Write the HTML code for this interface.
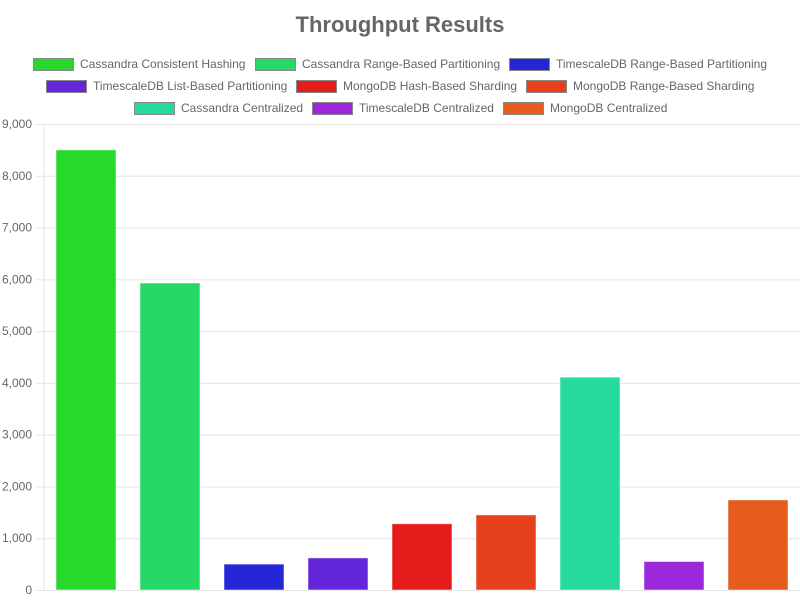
<!DOCTYPE html>
<html><head><meta charset="utf-8"><style>
body{margin:0;background:#fff;}
svg{display:block;font-family:"Liberation Sans",sans-serif;}
</style></head><body>
<svg id="chart" width="800" height="600">
<text x="400" y="32" text-anchor="middle" font-size="22" font-weight="bold" fill="#666">Throughput Results</text>
<g id="legend"></g>
<g id="grid"></g>
<g id="bars"></g>
</svg>
<script>
const categories = ["Cassandra Consistent Hashing","Cassandra Range-Based Partitioning","TimescaleDB Range-Based Partitioning","TimescaleDB List-Based Partitioning","MongoDB Hash-Based Sharding","MongoDB Range-Based Sharding","Cassandra Centralized","TimescaleDB Centralized","MongoDB Centralized"];
const values = [8500, 5930, 500, 620, 1280, 1450, 4110, 550, 1740];
const colors = ["#26d92b","#26d966","#2626d9","#6426d9","#e61c1c","#e6401c","#26d99c","#9c26d9","#e65c1c"];
const yTicks = [0,1000,2000,3000,4000,5000,6000,7000,8000,9000];
const NS="http://www.w3.org/2000/svg";
const plotLeft=44,plotRight=800,plotTop=124,plotBottom=590,yMax=9000;
const yScale=v=>plotBottom-(v/yMax)*(plotBottom-plotTop);
const band=(plotRight-plotLeft)/categories.length;
const xScale=i=>plotLeft+band*i+band/2;
function mk(tag,attrs,parent){const e=document.createElementNS(NS,tag);for(const k in attrs)e.setAttribute(k,attrs[k]);parent.appendChild(e);return e;}
const grid=document.getElementById('grid');
mk('line',{x1:plotLeft,y1:plotTop,x2:plotLeft,y2:plotBottom,stroke:'#e0e0e0'},grid);
yTicks.forEach(t=>{
  const l=mk('line',{x1:36,y1:yScale(t)+0.5,x2:plotRight,y2:yScale(t)+0.5,stroke:'#e5e5e5'},grid);
  
  
  const tx=mk('text',{x:32,y:yScale(t)+4,'text-anchor':'end','font-size':12,fill:'#666'},grid);
  tx.textContent=t.toLocaleString('en-US');
  
  
});
const bars=document.getElementById('bars');
values.forEach((v,i)=>{
  const r=mk('rect',{x:xScale(i)-30,y:yScale(v),width:60,height:plotBottom-yScale(v),fill:colors[i],stroke:'rgba(255,255,255,0.5)','stroke-width':1},bars);
  
  
});
const legend=document.getElementById('legend');
const lpos=[[33,64],[255,64],[509,64],[46,86],[296,86],[526,86],[134,108],[312,108],[503,108]];
categories.forEach((c,i)=>{
  const lx=lpos[i][0], ly=lpos[i][1];
  const g=mk('g',{},legend);
  
  
  mk('rect',{x:lx+0.5,y:ly-6+0.5,width:40,height:12,fill:colors[i],stroke:'#888','stroke-width':1},g);
  const t=mk('text',{x:lx+47,y:ly+4,'font-size':12,fill:'#666'},g);
  t.textContent=c;
});
</script>
</body></html>
